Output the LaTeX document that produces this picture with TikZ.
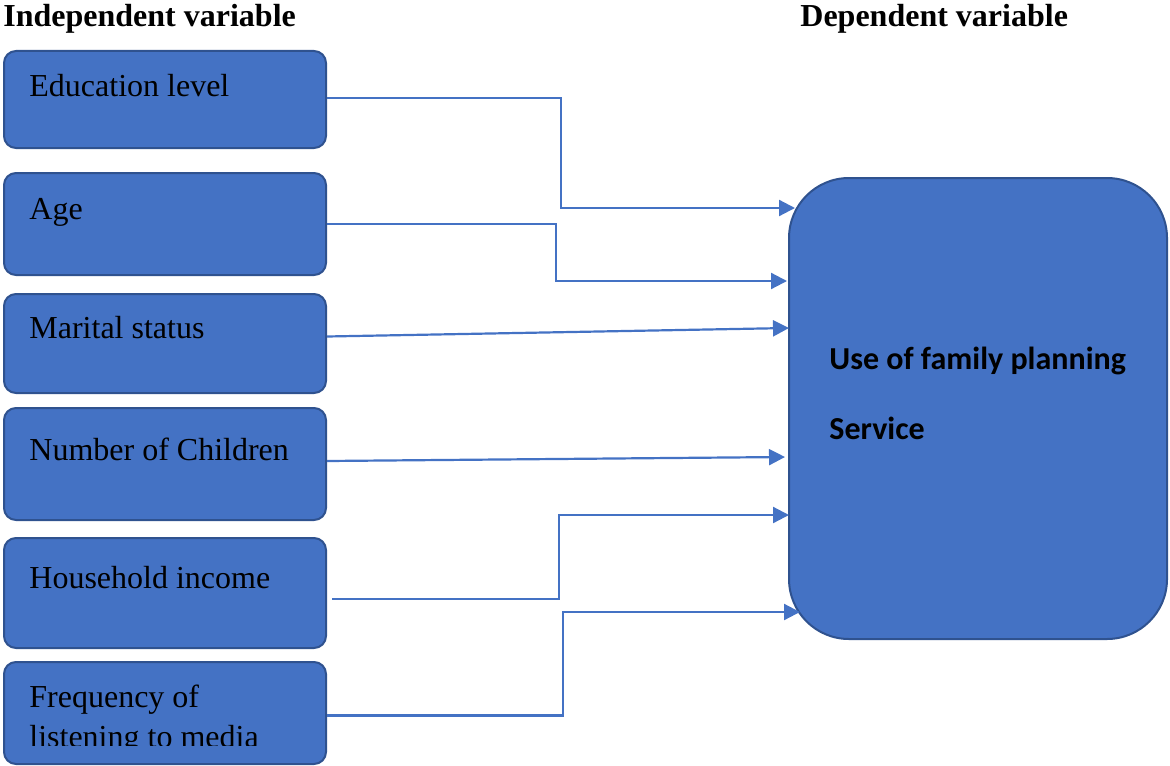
\documentclass[tikz,border=0pt]{standalone}
\usepackage{fontspec}
\setmainfont{Liberation Serif}
\newfontfamily\dvfont{Carlito}
\usetikzlibrary{arrows.meta}
\definecolor{boxblue}{HTML}{4472C4}
\definecolor{boxedge}{HTML}{2F528F}
\begin{document}
\begin{tikzpicture}[x=0.5pt, y=-0.5pt,
  ivbox/.style={draw=boxedge, line width=1pt, fill=boxblue, rounded corners=6pt, minimum width=161pt, anchor=north west, inner sep=0pt},
  dvbox/.style={draw=boxedge, line width=1pt, fill=boxblue, rounded corners=30pt, minimum width=189pt, minimum height=230.5pt, inner sep=0pt},
  ivtext/.style={anchor=base west, inner sep=0pt, font=\fontsize{16}{19}\selectfont},
  dvtext/.style={anchor=base west, inner sep=0pt, font=\dvfont\bfseries\fontsize{16}{19}\selectfont},
  head/.style={anchor=base west, inner sep=0pt, font=\bfseries\fontsize{16}{19}\selectfont},
  link/.style={draw=boxblue, line width=1.1pt, -{Triangle[length=8pt,width=8pt]}}]
\useasboundingbox (0,0) rectangle (1170,765);
% headings
\node[head] (indep) at (3,27) {Independent variable};
\node[head] (dep) at (800,27) {Dependent variable};
% independent variables
\node[ivbox, minimum height=48.5pt] (edu) at (3,50) {};
\node[ivtext] (edut) at (29,97) {Education level};
\node[ivbox, minimum height=51pt] (age) at (3,172) {};
\node[ivtext] (aget) at (29,219) {Age};
\node[ivbox, minimum height=49.5pt] (mar) at (3,293) {};
\node[ivtext] (mart) at (29,338) {Marital status};
\node[ivbox, minimum height=56pt] (chi) at (3,407) {};
\node[ivtext] (chit) at (29,460) {Number of Children};
\node[ivbox, minimum height=55pt] (inc) at (3,537) {};
\node[ivtext] (inct) at (29,588) {Household income};
\node[ivbox, minimum height=51pt] (med) at (3,661) {};
\begin{scope}
\clip (3,661) rectangle (325,745);
\node[ivtext] (medt) at (29,707) {Frequency of};
\node[ivtext] (medt2) at (29,747) {listening to media};
\end{scope}
% dependent variable
\node[dvbox] (dv) at (978,408.5) {};
\node[dvtext] (dvt) at (829,369) {Use of family planning};
\node[dvtext] (dvt2) at (829,439) {Service};
% arrow ends
\coordinate (in1) at (795,208);
\coordinate (in2) at (787,281);
\coordinate (in3) at (789,328);
\coordinate (in4) at (785,457);
\coordinate (in5) at (789,515);
\coordinate (in6) at (800,612);
% links
\draw[link] ([yshift=0.75pt]edu.east) -| (561,208) -- (in1);
\draw[link] (age.east) -| (556,281) -- (in2);
\draw[link] ([yshift=3.5pt]mar.east) -- (in3);
\draw[link] ([yshift=1.5pt]chi.east) -- (in4);
\draw[link] ([xshift=2.5pt,yshift=-3pt]inc.east) -| (559,515) -- (in5);
\draw[link] ([yshift=-1.25pt]med.east) -| (563,612) -- (in6);
\end{tikzpicture}
\end{document}
